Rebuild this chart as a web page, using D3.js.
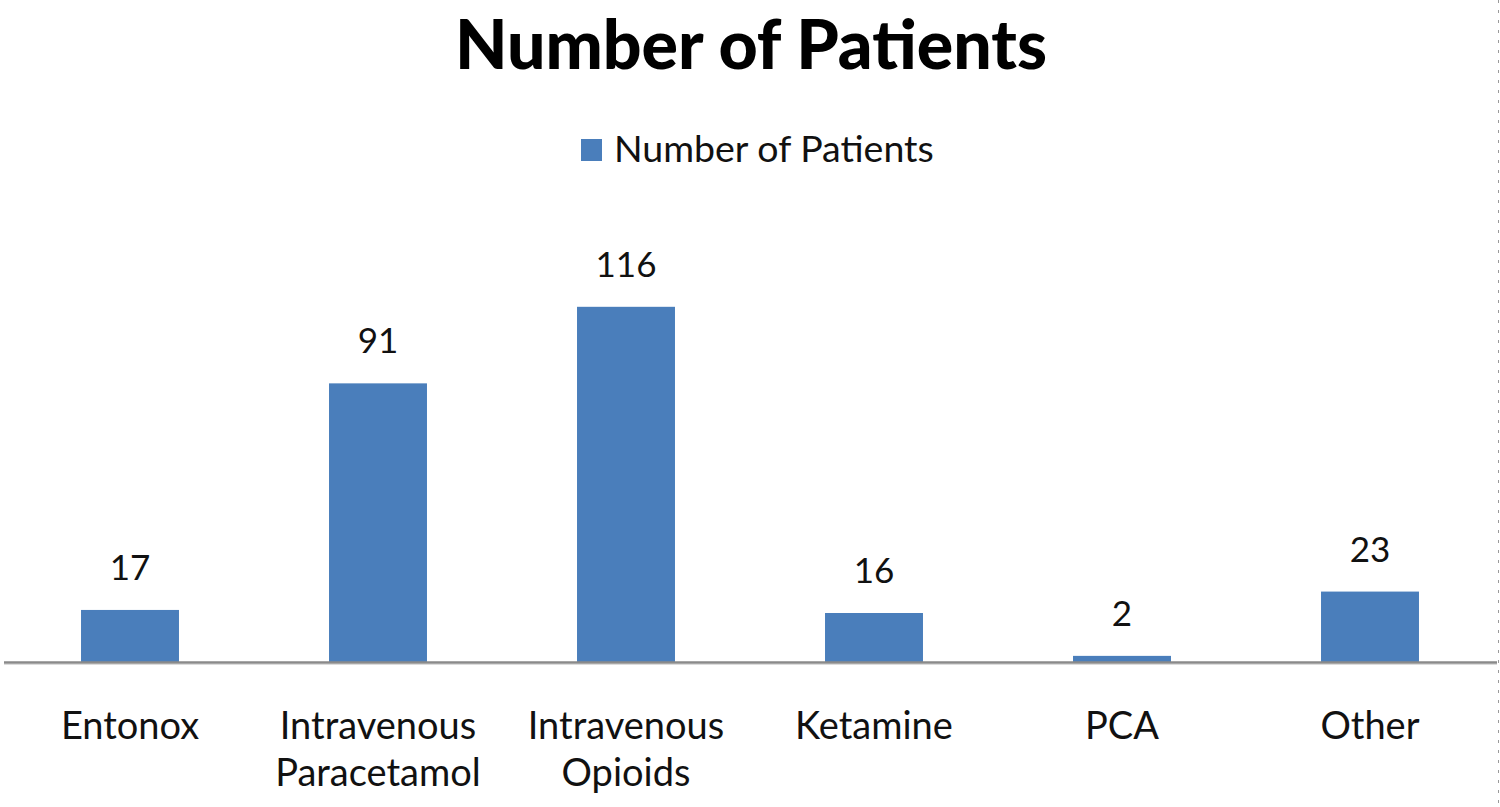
<!DOCTYPE html>
<html><head><meta charset="utf-8">
<script src="https://cdn.jsdelivr.net/npm/d3@7"></script>
<style>
html,body{margin:0;padding:0;background:#fff;overflow:hidden}
svg{display:block}
</style></head>
<body>
<svg id="chart" width="1500" height="807"></svg>
<script>
const categories = [["Entonox"],["Intravenous","Paracetamol"],["Intravenous","Opioids"],["Ketamine"],["PCA"],["Other"]];
const categoryKeys = ["Entonox","Intravenous Paracetamol","Intravenous Opioids","Ketamine","PCA","Other"];
const values = [17, 91, 116, 16, 2, 23];
const seriesName = "Number of Patients";
const yDomain = [0, 140];

const svg = d3.select("#chart");
const W = 1500, H = 807;
const font = "Lato, 'Open Sans', sans-serif";
const baseY = 662;

const x = d3.scaleBand().domain(categoryKeys).range([6, 1494]).paddingInner(0.605).paddingOuter(0.3025);
const y = d3.scaleLinear().domain(yDomain).range([baseY, baseY - 140*3.062]);

svg.append("rect").attr("width", W).attr("height", H).attr("fill", "#fff");

// title
svg.append("text").attr("x", 751).attr("y", 69).attr("text-anchor", "middle")
  .attr("font-family", font).attr("font-weight", 900).attr("font-size", 68)
  .attr("fill", "#000").text(seriesName);

// legend
svg.append("rect").attr("x", 581).attr("y", 139).attr("width", 21).attr("height", 22).attr("fill", "#4a7ebb");
svg.append("text").attr("x", 614).attr("y", 162).attr("font-family", font).attr("font-size", 37.5)
  .attr("fill", "#111").text(seriesName);

// bars
svg.selectAll("rect.bar").data(values).enter().append("rect").attr("class", "bar")
  .attr("x", (d, i) => x(categoryKeys[i]))
  .attr("width", x.bandwidth())
  .attr("y", d => y(d))
  .attr("height", d => baseY - y(d))
  .attr("fill", "#4a7ebb");

// value labels
svg.selectAll("text.val").data(values).enter().append("text").attr("class", "val")
  .attr("x", (d, i) => x(categoryKeys[i]) + x.bandwidth()/2)
  .attr("y", d => y(d) - 30)
  .attr("text-anchor", "middle").attr("font-family", font).attr("font-size", 35)
  .attr("fill", "#111").text(d => d);

// axis line
svg.append("line").attr("x1", 4).attr("x2", 1497).attr("y1", baseY + 0.5).attr("y2", baseY + 0.5)
  .attr("stroke", "#8a8a8a").attr("stroke-width", 2.5);
svg.append("line").attr("x1", 4).attr("x2", 1497).attr("y1", baseY + 2.5).attr("y2", baseY + 2.5)
  .attr("stroke", "#dcdcdc").attr("stroke-width", 1);

// category labels
const xAxis = svg.append("g");
categories.forEach((lines, i) => {
  const cx = x(categoryKeys[i]) + x.bandwidth()/2;
  const t = xAxis.append("text").attr("x", cx).attr("y", 739).attr("text-anchor", "middle")
    .attr("font-family", font).attr("font-size", 38).attr("fill", "#111");
  lines.forEach((l, j) => t.append("tspan").attr("x", cx).attr("dy", j ? 47 : 0).text(l));
});

// right edge dashed line
svg.append("line").attr("x1", 1498.5).attr("x2", 1498.5).attr("y1", 0).attr("y2", H)
  .attr("stroke", "#9a9a9a").attr("stroke-width", 1).attr("stroke-dasharray", "3,7");
</script>
</body></html>
